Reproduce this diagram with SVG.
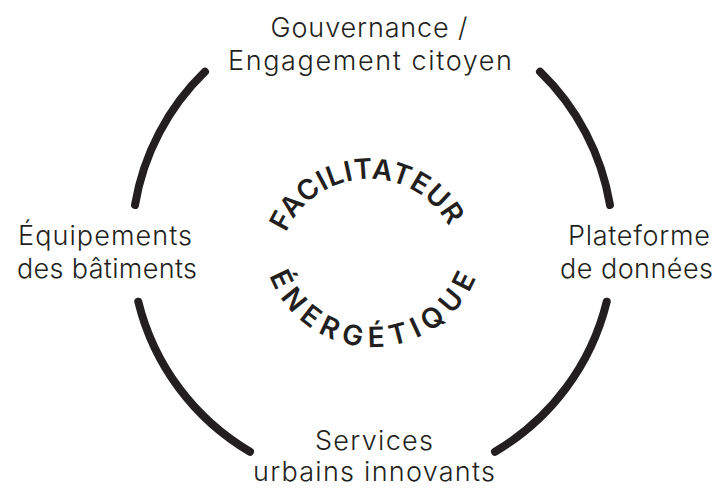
<svg xmlns="http://www.w3.org/2000/svg" width="721" height="489" viewBox="0 0 721 489">
<style>
.lbl{font-family:Inter,"Liberation Sans","DejaVu Sans",sans-serif;font-weight:300;font-size:27px;fill:#231f20;text-anchor:middle}
.arc{fill:none;stroke:#231f20;stroke-width:8;stroke-linecap:round}
.ctr{font-family:Inter,"Liberation Sans","DejaVu Sans",sans-serif;font-weight:600;font-size:28px;fill:#231f20}
</style>
<defs>
<path id="topPath" d="M286,232.5 A91,91 0 0 1 452,232.5"/>
<path id="botPath" d="M269.4,275.8 A111,111 0 0 0 476.6,275.8"/>
</defs>
<rect width="721" height="489" fill="#ffffff"/>
<g id="connectors">
<path class="arc" d="M205,71.7 A240.7,240.7 0 0 0 135,205"/>
<path class="arc" d="M138.3,301.7 A240.7,240.7 0 0 0 250,451.7"/>
<path class="arc" d="M495,451.7 A240.7,240.7 0 0 0 606.7,301.7"/>
<path class="arc" d="M610,205 A240.7,240.7 0 0 0 540,71.7"/>
</g>
<g id="node-gouvernance">
<text class="lbl" x="369" y="37" textLength="197" lengthAdjust="spacing">Gouvernance /</text>
<text class="lbl" x="370" y="70" textLength="284" lengthAdjust="spacing">Engagement citoyen</text>
</g>
<g id="node-equipements">
<text class="lbl" x="105" y="245" textLength="174" lengthAdjust="spacing">Équipements</text>
<text class="lbl" x="107" y="278" textLength="180" lengthAdjust="spacing">des bâtiments</text>
</g>
<g id="node-plateforme">
<text class="lbl" x="639" y="245" textLength="142" lengthAdjust="spacing">Plateforme</text>
<text class="lbl" x="636.5" y="278" textLength="153" lengthAdjust="spacing">de données</text>
</g>
<g id="node-services">
<text class="lbl" x="374" y="450" textLength="118" lengthAdjust="spacing">Services</text>
<text class="lbl" x="374" y="481" textLength="242" lengthAdjust="spacing">urbains innovants</text>
</g>
<g id="node-facilitateur">
<text class="ctr"><textPath href="#topPath" textLength="202" lengthAdjust="spacing">FACILITATEUR</textPath></text>
<text class="ctr"><textPath href="#botPath" textLength="265" lengthAdjust="spacing">ÉNERGÉTIQUE</textPath></text>
</g>
</svg>
